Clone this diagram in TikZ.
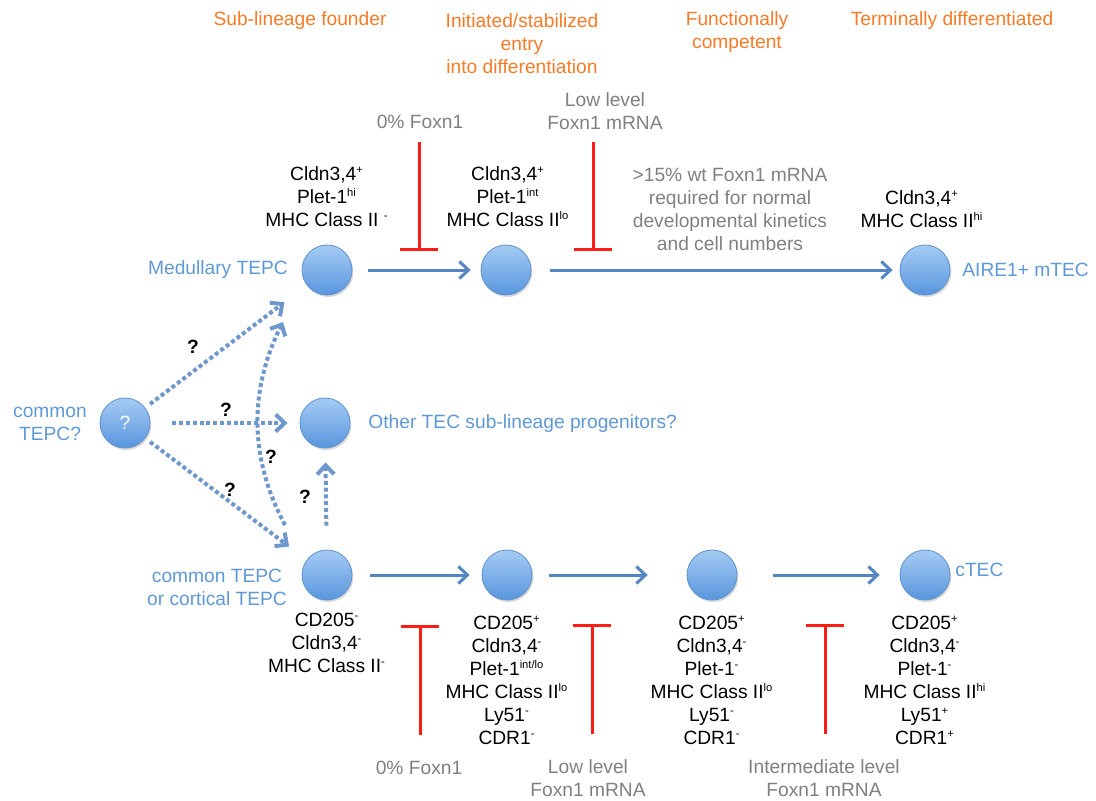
\documentclass[tikz,border=0pt]{standalone}
\usepackage{fontspec}
\setmainfont{Liberation Sans}
\usetikzlibrary{
  arrows.meta,
  chains,
  scopes,
  shadows
}
\definecolor{tepcblue}{RGB}{95,152,214}
\definecolor{flowblue}{RGB}{84,134,196}
\definecolor{stageorange}{RGB}{247,122,38}
\definecolor{foxgray}{RGB}{128,128,128}
\definecolor{blockred}{RGB}{250,30,20}
\definecolor{celltop}{RGB}{165,203,243}
\definecolor{cellbottom}{RGB}{88,150,222}
\definecolor{cellrim}{RGB}{96,146,204}
\newcommand{\lvl}[1]{\textsuperscript{\fontsize{5.6}{6}\selectfont #1}}

\begin{document}
\begin{tikzpicture}[
      x=0.5pt,y=-0.5pt,
      every node/.style={font=\fontsize{9.6}{11.5}\selectfont},
      cell/.style={
         circle,
         minimum size=25pt,
         inner sep=0pt,
         draw=cellrim, thin,
         top color=celltop,
         bottom color=cellbottom,
         drop shadow={opacity=0.3,shadow xshift=0.7pt,shadow yshift=-1pt}
      },
      stage/.style={align=center, text=stageorange, inner sep=1pt},
      cellname/.style={align=center, text=tepcblue, inner sep=1pt},
      markers/.style={align=center, text=black, inner sep=1pt},
      foxn/.style={align=center, text=foxgray, inner sep=1pt},
      query/.style={text=black, font=\fontsize{9.6}{11.5}\selectfont\bfseries},
      flow/.style={draw=flowblue, line width=1.5pt, -{Straight Barb[length=4.5pt,width=8.5pt]}},
      maybe/.style={draw=flowblue!85!white, line width=2pt, dash pattern=on 2pt off 1.4pt,
         -{Straight Barb[length=4.5pt,width=8.5pt]}},
      block/.style={draw=blockred, line width=1.5pt, -{Bar[width=19pt]}}
    ]
  \useasboundingbox (0,0) rectangle (1096,800);

  \node[stage] (s1) at (300,21) {Sub-lineage founder};
  \node[stage] (s2) at (522,44) {Initiated/stabilized\\entry\\into differentiation};
  \node[stage] (s3) at (737,32) {Functionally\\competent};
  \node[stage] (s4) at (952,21) {Terminally differentiated};

  \node[cell] (n11) at (327,270) {};
  \node[cell] (n12) at (506,270) {};
  \node[cell] (n13) at (925,270) {};
  \node[cell, text=white] (n21) at (125,423) {?};
  \node[cell] (n22) at (325,423) {};
  \node[cell] (n31) at (327,575) {};
  \node[cell] (n32) at (507,575) {};
  \node[cell] (n33) at (712,575) {};
  \node[cell] (n34) at (925,575) {};

  \node[cellname] (l11) at (218,270) {Medullary TEPC};
  \node[cellname, anchor=west] (l13) at (960,270) {AIRE1+ mTEC};
  \node[cellname] (l21) at (50,424) {common\\TEPC?};
  \node[cellname, anchor=west] (l22) at (366,424) {Other TEC sub-lineage progenitors?};
  \node[cellname] (l31) at (217,587) {common TEPC\\or cortical TEPC};
  \node[cellname, anchor=west] (l34) at (953,570) {cTEC};

  \node[markers] (k11) at (327,197) {Cldn3,4\lvl{+}\\Plet-1\lvl{hi}\\MHC Class II \lvl{-}};
  \node[markers] (k12) at (508,197) {Cldn3,4\lvl{+}\\Plet-1\lvl{int}\\MHC Class II\lvl{lo}};
  \node[markers] (k13) at (922,209) {Cldn3,4\lvl{+}\\MHC Class II\lvl{hi}};
  \node[markers] (k31) at (327,643) {CD205\lvl{-}\\Cldn3,4\lvl{-}\\MHC Class II\lvl{-}};
  \node[markers] (k32) at (507,680) {CD205\lvl{+}\\Cldn3,4\lvl{-}\\Plet-1\lvl{int/lo}\\MHC Class II\lvl{lo}\\Ly51\lvl{-}\\CDR1\lvl{-}};
  \node[markers] (k33) at (712,680) {CD205\lvl{+}\\Cldn3,4\lvl{-}\\Plet-1\lvl{-}\\MHC Class II\lvl{lo}\\Ly51\lvl{-}\\CDR1\lvl{-}};
  \node[markers] (k34) at (925,680) {CD205\lvl{+}\\Cldn3,4\lvl{-}\\Plet-1\lvl{-}\\MHC Class II\lvl{hi}\\Ly51\lvl{+}\\CDR1\lvl{+}};

  \node[foxn] (f11) at (420,122) {0\% Foxn1};
  \node[foxn] (f12) at (605,111) {Low level\\Foxn1 mRNA};
  \node[foxn] (f13) at (730,209) {>15\% wt Foxn1 mRNA\\required for normal\\developmental kinetics\\and cell numbers};
  \node[foxn] (f31) at (419,768) {0\% Foxn1};
  \node[foxn] (f32) at (588,778) {Low level\\Foxn1 mRNA};
  \node[foxn] (f33) at (824,778) {Intermediate level\\Foxn1 mRNA};

  \node[query] (q1) at (193,347) {?};
  \node[query] (q2) at (226,410) {?};
  \node[query] (q3) at (230,490) {?};
  \node[query] (q4) at (271,457) {?};
  \node[query] (q5) at (305,497) {?};

  \coordinate (b11) at (419,142);
  \coordinate (e11) at (419,251);
  \coordinate (b12) at (593,142);
  \coordinate (e12) at (593,251);
  \coordinate (b31) at (420,735);
  \coordinate (e31) at (420,625);
  \coordinate (b32) at (592,734);
  \coordinate (e32) at (592,624);
  \coordinate (b33) at (825,734);
  \coordinate (e33) at (825,624);
  \coordinate (a1) at (285,525);
  \coordinate (a2) at (283,322);

  { [start chain]
       \chainin (n11);
       \chainin (n12)    [join=by {flow,shorten <=8pt,shorten >=5pt}];
       \chainin (n13)    [join=by {flow,shorten <=9.5pt,shorten >=3.5pt}];
  }
  { [start chain]
       \chainin (n31);
       \chainin (n32)    [join=by {flow,shorten <=9pt,shorten >=6pt}];
       \chainin (n33)    [join=by {flow,shorten <=8.5pt,shorten >=19.5pt}];
       \chainin (n34)    [join=by {flow,shorten <=18pt,shorten >=10pt}];
  }

  \draw[maybe, shorten <=3pt, shorten >=14pt] (n21) -- (n11);
  \draw[maybe, shorten <=11pt, shorten >=6pt] (n21) -- (n22);
  \draw[maybe, shorten <=3pt, shorten >=11pt] (n21) -- (n31);
  \draw[maybe] (a1) .. controls (249,458) and (249,390) .. (a2);
  \draw[maybe, shorten <=12pt, shorten >=7pt] (n31) -- (n22);

  \draw[block] (b11) -- (e11);
  \draw[block] (b12) -- (e12);
  \draw[block] (b31) -- (e31);
  \draw[block] (b32) -- (e32);
  \draw[block] (b33) -- (e33);
\end{tikzpicture}
\end{document}
